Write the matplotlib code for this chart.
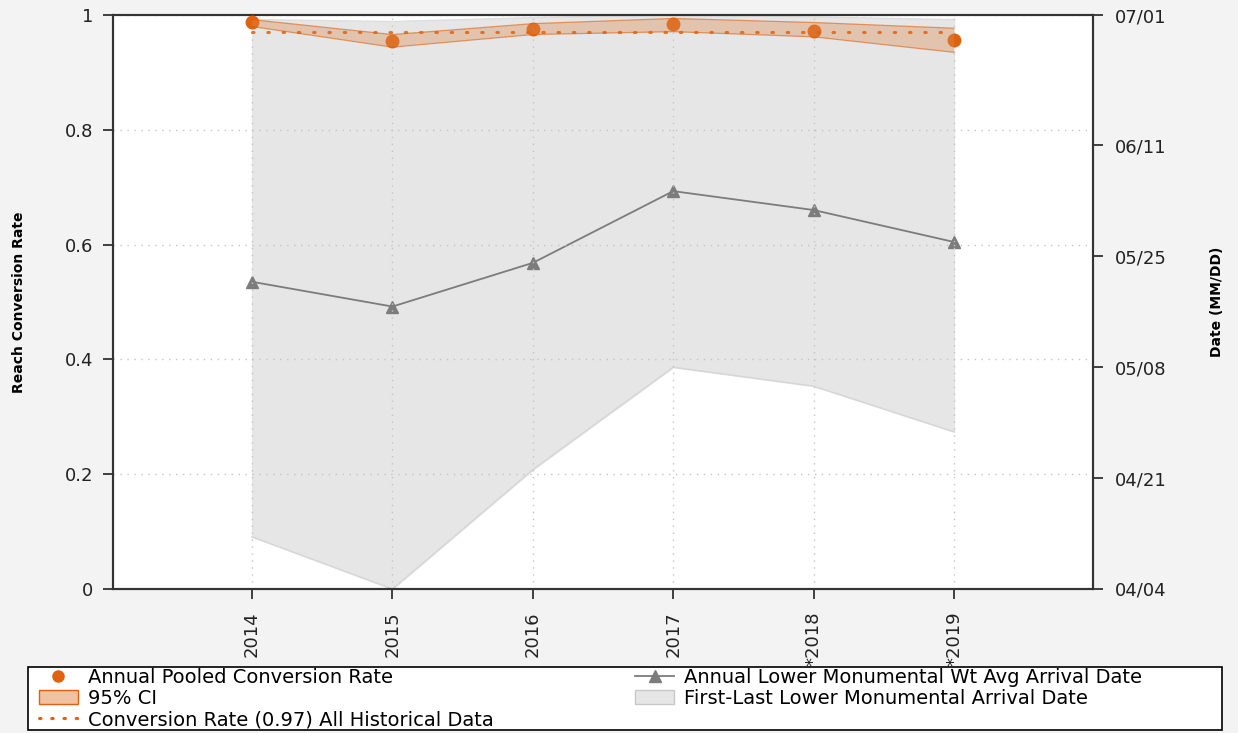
import matplotlib
matplotlib.use("Agg")
import matplotlib.pyplot as plt
from matplotlib.lines import Line2D
from matplotlib.patches import Patch, Rectangle

# data
years = ["2014", "2015", "2016", "2017", "2018", "2019"]
year_labels = ["2014", "2015", "2016", "2017", "*2018", "*2019"]
conv_rate = [0.988, 0.955, 0.976, 0.984, 0.973, 0.956]
ci_low = [0.980, 0.944, 0.966, 0.971, 0.962, 0.935]
ci_high = [0.992, 0.966, 0.985, 0.994, 0.987, 0.977]
hist_rate = 0.97

# dates as days after 04/04
wt_avg_arrival = [47.1, 43.3, 50.0, 61.0, 58.1, 53.2]
first_arrival = [8.0, 0.0, 18.3, 34.0, 31.1, 24.1]
last_arrival = [87.3, 87.0, 87.6, 88.0, 87.7, 87.3]
date_ticks = [0, 17, 34, 51, 68, 88]
date_labels = ["04/04", "04/21", "05/08", "05/25", "06/11", "07/01"]

orange = "#e0620e"
gray_band = "#e6e6e6"
tri_gray = "#7c7c7c"

fig = plt.figure(figsize=(12.38, 7.33), dpi=100, facecolor="#f3f3f3")
ax = fig.add_axes([0.0913, 0.1965, 0.7916, 0.783])
ax2 = ax.twinx()
# left axis (rates + grid) on top of the date axis
ax.set_zorder(ax2.get_zorder() + 1)
ax.patch.set_visible(False)
ax2.patch.set_visible(True)
ax2.patch.set_facecolor("white")

x = list(range(len(years)))

# date axis: first-last band and weighted avg arrival
ax2.fill_between(x, first_arrival, last_arrival, color=gray_band, zorder=1)
ax2.plot(x, first_arrival, color="#d6d6d6", lw=1, zorder=1.2)
ax2.plot(x, last_arrival, color="#dedede", lw=1, zorder=1.2)
ax2.plot(x, wt_avg_arrival, color=tri_gray, lw=1.3, marker="^", ms=8, zorder=3)
ax2.set_ylim(0, 88)
ax2.set_yticks(date_ticks)
ax2.set_yticklabels(date_labels)
ax2.set_ylabel("Date (MM/DD)", fontsize=10, fontweight="bold", labelpad=31)

# conversion rate axis
ax.plot(x, conv_rate, "o", color=orange, ms=9, zorder=3)
ax.fill_between(x, ci_low, ci_high, facecolor="#d98a55", alpha=0.38, edgecolor="none", zorder=4)
ax.plot(x, ci_low, color=orange, lw=0.9, alpha=0.6, zorder=4)
ax.plot(x, ci_high, color=orange, lw=0.9, alpha=0.6, zorder=4)
ax.plot(x, [hist_rate] * len(x), color=orange, ls=(0, (0.5, 4.5)), lw=2.2, dash_capstyle="round", zorder=5, alpha=0.85)
ax.set_xlim(-0.99, 5.99)
ax.set_ylim(0, 1)
ax.set_yticks([0, 0.2, 0.4, 0.6, 0.8, 1])
ax.set_yticklabels(["0", "0.2", "0.4", "0.6", "0.8", "1"])
ax.set_xticks(x)
ax.set_xticklabels(year_labels, rotation=90, va="top", ha="center")
ax.grid(True, color="#c4c4c4", ls=(0, (1, 4)), lw=1)
ax.set_ylabel("Reach Conversion Rate", fontsize=10, fontweight="bold", labelpad=28)

for a in (ax, ax2):
    a.tick_params(direction="out", length=7, width=1.2, labelsize=13, colors="#222222", pad=7)
    for s in a.spines.values():
        s.set_color("#333333")
        s.set_linewidth(1.5)
ax.tick_params(axis="x", pad=9)
ax2.tick_params(axis="y", pad=9)

# legend with separate frame
handles = [
    Line2D([], [], color=orange, marker="o", ls="none", ms=8),
    Patch(facecolor="#f0c2a2", edgecolor=orange),
    Line2D([], [], color=orange, ls=(0, (0.5, 3.5)), lw=2.2, dash_capstyle="round"),
    Line2D([], [], color=tri_gray, marker="^", lw=1.3, ms=8),
    Patch(facecolor=gray_band, edgecolor="#c8c8c8"),
]
labels = [
    "Annual Pooled Conversion Rate",
    "95% CI",
    "Conversion Rate (0.97) All Historical Data",
    "Annual Lower Monumental Wt Avg Arrival Date",
    "First-Last Lower Monumental Arrival Date",
]
fig.add_artist(Rectangle((28 / 1238, 3 / 733), 1194 / 1238, 63 / 733, transform=fig.transFigure,
                         facecolor="white", edgecolor="black", lw=1.2, zorder=4))
leg = fig.legend(handles, labels, ncol=2, loc="upper left", bbox_to_anchor=(0.0315, 0.0885),
                 frameon=False, fontsize=14, handlelength=2.0, handletextpad=0.5,
                 columnspacing=7.3, labelspacing=0.1, borderpad=0, borderaxespad=0)
leg.set_zorder(5)

fig.savefig("out.png", dpi=100, facecolor=fig.get_facecolor())
